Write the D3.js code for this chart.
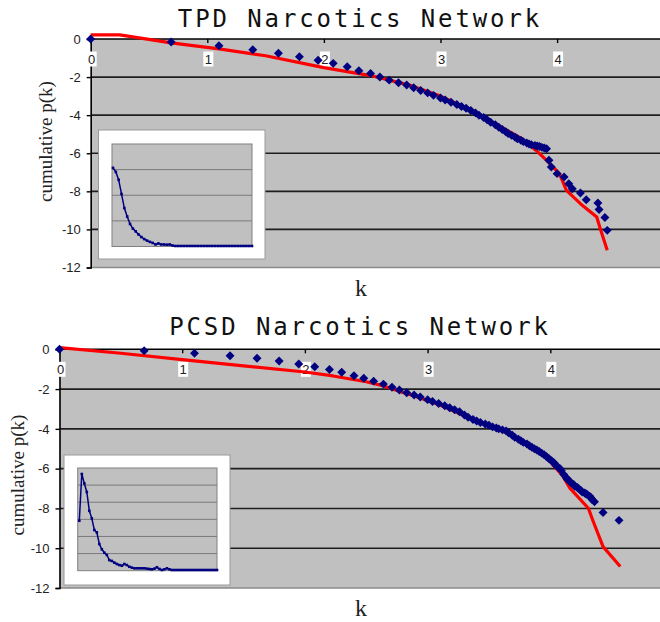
<!DOCTYPE html>
<html><head><meta charset="utf-8">
<script src="https://cdn.jsdelivr.net/npm/d3@7"></script>
<style>body{margin:0;background:#fff} svg{display:block}</style>
</head><body><svg id="c" width="660" height="622"></svg>
<script>
const xTicks=[0,1,2,3,4];
const yTicks=[0,-2,-4,-6,-8,-10,-12];
const tpdTitle="TPD Narcotics Network";
const pcsdTitle="PCSD Narcotics Network";
const yLabel="cumulative p(k)";
const xLabel="k";

const tpdX=[0,0.69,1.10,1.39,1.61,1.79,1.95,2.08,2.20,2.30,2.40,2.48,2.56,2.64,2.71,2.77,2.83,2.89,2.94,3.00,
3.04,3.09,3.14,3.18,3.22,3.26,3.30,3.33,3.37,3.40,3.43,3.47,3.50,3.53,3.56,3.58,3.61,3.64,3.66,3.69,
3.71,3.74,3.76,3.78,3.81,3.83,3.85,3.87,3.89,3.91,3.93,3.95,4.00,4.06,4.10,4.13,4.20,4.25,4.35,4.36,4.41,4.43];
const tpdY=[0,-0.16,-0.35,-0.56,-0.75,-0.93,-1.12,-1.28,-1.46,-1.67,-1.81,-2.0,-2.16,-2.30,-2.42,-2.56,-2.70,-2.83,-2.96,-3.10,
-3.20,-3.32,-3.44,-3.54,-3.64,-3.76,-3.88,-4.00,-4.12,-4.24,-4.37,-4.50,-4.63,-4.75,-4.87,-4.96,-5.06,-5.16,-5.24,-5.32,
-5.39,-5.46,-5.51,-5.55,-5.59,-5.62,-5.65,-5.69,-5.72,-5.76,-6.37,-6.72,-7.07,-7.25,-7.60,-7.86,-8.09,-8.44,-8.61,-8.95,-9.37,-10.05];
const tpdFitX=[0,0.25,0.69,1.10,1.5,2.0,2.4,2.75,3.0,3.3,3.5,3.7,3.82,3.91,4.02,4.08,4.2,4.34,4.37,4.43];
const tpdFitY=[0.22,0.22,-0.2,-0.52,-0.88,-1.5,-1.92,-2.45,-3.0,-3.85,-4.55,-5.25,-5.85,-6.37,-7.07,-7.95,-8.65,-9.35,-9.96,-11.1];

const pcsdX=[0,0.69,1.10,1.39,1.61,1.79,1.95,2.08,2.20,2.30,2.40,2.48,2.56,2.64,2.71,2.77,2.83,2.89,2.94,3.00,
3.04,3.09,3.14,3.18,3.22,3.26,3.30,3.33,3.37,3.40,3.43,3.47,3.50,3.53,3.56,3.58,3.61,3.64,3.66,3.69,
3.71,3.74,3.76,3.78,3.81,3.83,3.85,3.87,3.89,3.91,3.93,3.95,3.97,3.99,4.01,4.03,4.04,4.06,4.08,4.09,
4.11,4.13,4.14,4.16,4.17,4.19,4.20,4.22,4.23,4.25,4.26,4.28,4.29,4.30,4.32,4.33,4.34,4.36,4.43,4.56];
const pcsdY=[0,-0.07,-0.2,-0.32,-0.45,-0.59,-0.74,-0.88,-1.02,-1.15,-1.33,-1.46,-1.6,-1.75,-1.91,-2.05,-2.18,-2.3,-2.4,-2.53,
-2.62,-2.72,-2.84,-2.94,-3.04,-3.14,-3.3,-3.42,-3.53,-3.6,-3.68,-3.76,-3.82,-3.9,-3.96,-4.0,-4.05,-4.1,-4.2,-4.32,
-4.42,-4.52,-4.6,-4.68,-4.76,-4.85,-4.92,-5.0,-5.06,-5.14,-5.22,-5.3,-5.4,-5.5,-5.6,-5.7,-5.8,-5.9,-6.0,-6.1,
-6.3,-6.45,-6.55,-6.65,-6.72,-6.8,-6.88,-6.95,-7.0,-7.1,-7.18,-7.22,-7.26,-7.3,-7.38,-7.45,-7.55,-7.66,-8.2,-8.6];
const pcsdFitX=[0,0.5,1.0,1.5,2.0,2.23,2.5,2.64,2.78,2.91,3.1,3.32,3.5,3.75,3.9,4.0,4.1,4.16,4.31,4.35,4.43,4.57];
const pcsdFitY=[0.08,-0.2,-0.52,-0.83,-1.14,-1.34,-1.63,-1.84,-2.13,-2.38,-2.8,-3.39,-3.82,-4.5,-5.05,-5.65,-6.35,-6.98,-7.99,-8.66,-9.92,-10.92];

const tpdInset=[3.07,2.91,2.6,2.05,1.5,1.17,0.88,0.7,0.59,0.47,0.37,0.29,0.23,0.18,0.14,0.08,0.12,0.08,0.08,0.07,
0.08,0.04,0.02,0.02,0.02,0.02,0.02,0.02,0.02,0.02,0.02,0.02,0.02,0.02,0.02,0.02,0.02,0.02,0.02,0.02,
0.02,0.02,0.02,0.02,0.02,0.02,0.02,0.02,0.02,0.02];
const pcsdInset=[2.92,5.65,5.1,4.6,3.5,3.06,2.38,2.24,1.56,1.25,1.05,0.92,0.62,0.57,0.47,0.39,0.33,0.29,0.39,0.33,
0.23,0.18,0.14,0.14,0.14,0.14,0.14,0.12,0.1,0.08,0.12,0.2,0.1,0.04,0.08,0.14,0.08,0.04,0.04,0.04,
0.04,0.04,0.04,0.04,0.04,0.04,0.04,0.04,0.04,0.04,0.04,0.04,0.04,0.04,0.04,0.04];

const svg=d3.select('#c');
const navy='#000080', plotBg='#c0c0c0';

function drawPanel(o){
  const g=svg.append('g');
  const x=d3.scaleLinear().domain([0,5]).range([o.x0,o.x0+5*o.xu]);
  const y=d3.scaleLinear().domain([0,-12]).range([o.y0,o.y1]);
  g.append('text').attr('x',o.tx).attr('y',o.ty).attr('text-anchor','middle')
    .attr('font-family','"DejaVu Sans Mono", monospace').attr('font-size',24)
    .attr('letter-spacing','2.9px').attr('fill','#111').text(o.title);
  g.append('rect').attr('x',x(0)).attr('y',y(0)).attr('width',660-x(0)).attr('height',y(-12)-y(0)).attr('fill',plotBg);
  g.append('line').attr('x1',x(0)).attr('x2',660).attr('y1',y(-12)).attr('y2',y(-12)).attr('stroke','#8a8a8a').attr('stroke-width',1.5);
  g.selectAll('.grid').data(yTicks.filter(v=>v<0&&v>-12)).join('line')
    .attr('x1',x(0)).attr('x2',660).attr('y1',d=>y(d)).attr('y2',d=>y(d))
    .attr('stroke','#1e1e1e').attr('stroke-width',1.6);
  const ya=g.append('g').attr('transform',`translate(${x(0)},0)`)
    .call(d3.axisLeft(y).tickValues(yTicks).tickSize(4).tickPadding(6).tickFormat(d=>String(d)));
  ya.select('.domain').attr('stroke','#000').attr('stroke-width',1.6);
  ya.selectAll('.tick line').attr('stroke','#000').attr('stroke-width',1.4);
  ya.selectAll('text').attr('font-family','"Liberation Sans", Arial, sans-serif').attr('font-size',13).attr('fill','#222');
  const xa=g.append('g').attr('transform',`translate(0,${y(0)})`)
    .call(d3.axisBottom(x).tickValues(xTicks).tickSize(4).tickFormat(''));
  xa.select('.domain').attr('stroke','#000').attr('stroke-width',1.6).attr('d',`M${x(0)},0H660`);
  xa.selectAll('.tick line').attr('stroke','#000').attr('stroke-width',1.4);
  const lab=g.selectAll('.xl').data(xTicks).join('g').attr('transform',d=>`translate(${x(d)+1},${y(0)+20})`);
  lab.append('rect').attr('x',-5).attr('y',-7.5).attr('width',10).attr('height',15).attr('fill','#fff');
  lab.append('text').attr('text-anchor','middle').attr('dy','0.36em')
    .attr('font-family','"Liberation Sans", Arial, sans-serif').attr('font-size',13).attr('fill','#222').text(d=>String(d));
  const ins=o.inset;
  g.append('rect').attr('x',ins.bx).attr('y',ins.by).attr('width',ins.bw).attr('height',ins.bh)
    .attr('fill','#fff').attr('stroke','#9a9a9a').attr('stroke-width',1);
  const ix=d3.scaleLinear().domain([0,ins.data.length-1]).range([ins.px0,ins.px1]);
  const iy=d3.scaleLinear().domain([0,ins.ymax]).range([ins.iy1,ins.iy0]);
  g.append('rect').attr('x',ins.ix0).attr('y',ins.iy0).attr('width',ins.ix1-ins.ix0).attr('height',ins.iy1-ins.iy0)
    .attr('fill',plotBg).attr('stroke','#808080').attr('stroke-width',1);
  g.selectAll('.ig').data(d3.range(1,ins.ymax)).join('line')
    .attr('x1',ins.ix0).attr('x2',ins.ix1).attr('y1',d=>iy(d)).attr('y2',d=>iy(d))
    .attr('stroke','#7a7a7a').attr('stroke-width',1);
  g.append('path').datum(ins.data).attr('fill','none').attr('stroke',navy).attr('stroke-width',1.5)
    .attr('d',d3.line().x((d,i)=>ix(i)).y(d=>iy(d)));
  g.selectAll('.im').data(ins.data).join('rect')
    .attr('x',(d,i)=>ix(i)-1.3).attr('y',d=>iy(d)-1.3).attr('width',2.6).attr('height',2.6).attr('fill',navy);
  const fit=o.fitX.map((v,i)=>[v,o.fitY[i]]);
  g.append('path').datum(fit).attr('fill','none').attr('stroke','#ff0000').attr('stroke-width',3.2)
    .attr('stroke-linejoin','round').attr('d',d3.line().x(d=>x(d[0])).y(d=>y(d[1])));
  const pts=o.px.map((v,i)=>[v,o.py[i]]);
  g.selectAll('.pt').data(pts).join('path')
    .attr('d',d3.symbol(d3.symbolSquare,40)())
    .attr('transform',d=>`translate(${x(d[0])},${y(d[1])}) rotate(45)`).attr('fill',navy);
  g.append('text').attr('transform',`translate(${o.ylx},${o.yly}) rotate(-90)`).attr('text-anchor','middle')
    .attr('font-family','"Liberation Serif", "Times New Roman", serif').attr('font-size',19).attr('fill','#222').text(yLabel);
  g.append('text').attr('x',o.kx).attr('y',o.ky).attr('text-anchor','middle')
    .attr('font-family','"Liberation Serif", "Times New Roman", serif').attr('font-size',24).attr('fill','#222').text(xLabel);
}

drawPanel({title:tpdTitle,tx:360,ty:27,x0:90.7,xu:116.6,y0:39,y1:267.5,
  px:tpdX,py:tpdY,fitX:tpdFitX,fitY:tpdFitY,ylx:52,yly:141.5,kx:361,ky:296,
  inset:{bx:98.5,by:130,bw:166.5,bh:129,ix0:112,ix1:252,iy0:144,iy1:246.5,px0:113,px1:252,ymax:4,data:tpdInset}});
drawPanel({title:pcsdTitle,tx:360,ty:335,x0:59.5,xu:122.7,y0:349.3,y1:588,
  px:pcsdX,py:pcsdY,fitX:pcsdFitX,fitY:pcsdFitY,ylx:24,yly:475,kx:361,ky:616,
  inset:{bx:64,by:455,bw:166,bh:130,ix0:77.7,ix1:217,iy0:468,iy1:570.7,px0:79.3,px1:217,ymax:6,data:pcsdInset}});
</script></body></html>
